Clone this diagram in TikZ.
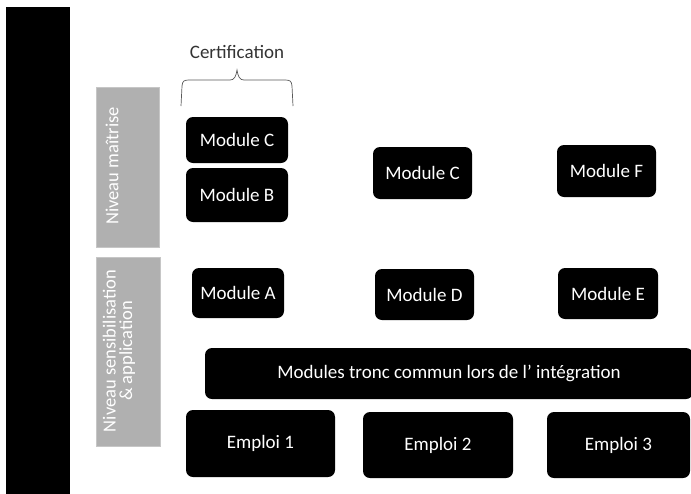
\documentclass[tikz,border=0pt]{standalone}
\usepackage{fontspec}
\setmainfont{Carlito}
\begin{document}
\begin{tikzpicture}[x=1pt,y=-1pt,
  blk/.style={fill=black,rounded corners=7pt,text=white,font=\fontsize{19}{21}\selectfont,inner sep=0pt,align=center},
  greybox/.style={fill=gray!62,draw=gray!45,line width=0.6pt,inner sep=0pt},
  greytxt/.style={text=white,rotate=90,font=\fontsize{18.5}{16.5}\selectfont,align=center,inner sep=0pt}]
\useasboundingbox (0,0) rectangle (691,493);
% left black bar
\fill[black] (6,7) rectangle (70,500);
% grey level boxes
\node[greybox,minimum width=63pt,minimum height=160pt] (g1) at (127.5,167) {};
\node[greybox,minimum width=64pt,minimum height=189pt] (g2) at (128,351.5) {};
\node[greytxt] (t1) at (112,166) {Niveau maîtrise};
\node[greytxt] (t2) at (119,351) {Niveau sensibilisation\\\& application};
% certification
\node[font=\fontsize{19}{21}\selectfont,text=black!80] (cert) at (237,52) {Certification};
\draw[gray!70!black,line width=0.7pt] (181,106) -- (182,86) .. controls (182.5,81) and (184,80) .. (189,80) -- (230,80) .. controls (234,80) and (236,77) .. (237,70) .. controls (238,77) and (240,80) .. (244,80) -- (285,80) .. controls (290,80) and (291.5,81) .. (292,86) -- (293,106);
% modules
\node[blk,minimum width=102pt,minimum height=46pt] (mc1) at (237,140) {Module C};
\node[blk,minimum width=102pt,minimum height=54pt] (mb) at (237,195) {Module B};
\node[blk,minimum width=92pt,minimum height=50pt] (ma) at (238,293) {Module A};
\node[blk,minimum width=99pt,minimum height=52pt] (mc2) at (422.5,173) {Module C};
\node[blk,minimum width=99pt,minimum height=52pt] (mf) at (606.5,171) {Module F};
\node[blk,minimum width=99pt,minimum height=51pt] (md) at (424.5,294.5) {Module D};
\node[blk,minimum width=100pt,minimum height=51pt] (me) at (608,293.5) {Module E};
% tronc commun
\node[blk,minimum width=488pt,minimum height=51pt] (tc) at (449,373.5) {Modules tronc commun lors de l’ intégration};
% emplois
\node[blk,minimum width=149pt,minimum height=67pt] (e1) at (260.5,443.5) {Emploi 1};
\node[blk,minimum width=150pt,minimum height=66pt] (e2) at (438,445) {Emploi 2};
\node[blk,minimum width=143pt,minimum height=66pt] (e3) at (618.5,445) {Emploi 3};
\end{tikzpicture}
\end{document}
